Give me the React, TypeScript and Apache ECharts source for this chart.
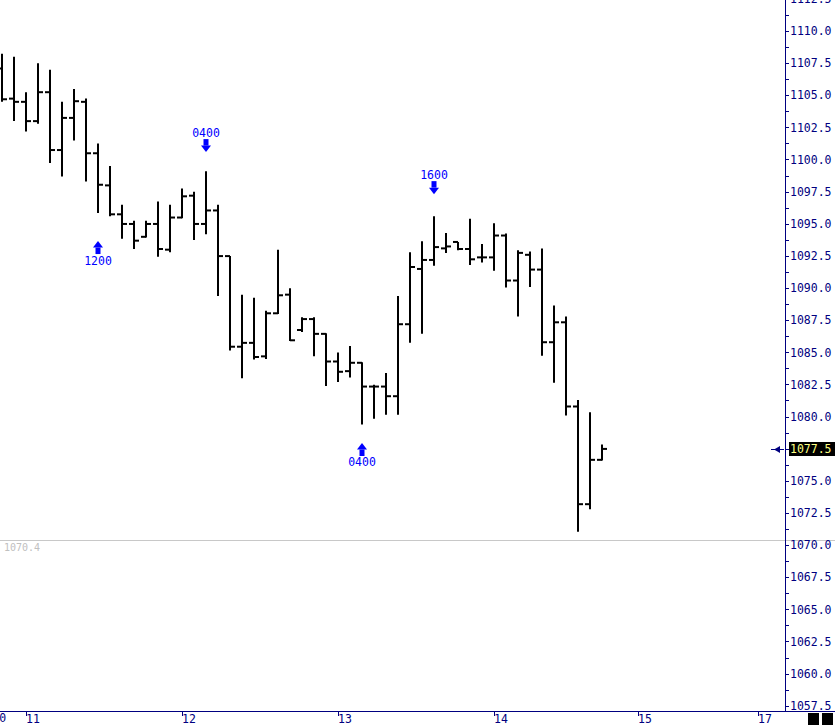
import React, { useEffect, useRef } from 'react';
import * as echarts from 'echarts';

// 2-hour OHLC bars (index 0 = first visible bar)
const opens = [
  1107.1, 1104.75, 1104.5, 1103.0, 1105.25, 1100.75, 1103.25, 1104.5, 1100.5, 1098.0,
  1095.75, 1095.0, 1094.0, 1095.0, 1093.0, 1095.5, 1097.2, 1095.0, 1096.05, 1092.5,
  1085.45, 1085.75, 1084.7, 1088.05, 1089.5, 1086.75, 1087.6, 1086.45, 1084.3, 1083.55,
  1084.2, 1082.35, 1082.35, 1081.6, 1087.2, 1091.5, 1092.2, 1093.1, 1093.6, 1093.05,
  1092.4, 1092.4, 1094.1, 1090.6, 1092.6, 1091.45, 1085.8, 1087.35, 1080.8, 1073.2,
  1076.65,
];
const highs = [
  1108.25, 1108.0, 1105.25, 1107.5, 1107.0, 1104.5, 1105.5, 1104.75, 1101.25, 1099.5,
  1096.5, 1095.25, 1095.25, 1096.75, 1096.5, 1097.75, 1097.5, 1099.1, 1096.5, 1092.5,
  1089.5, 1089.25, 1088.25, 1093.0, 1090.0, 1087.75, 1087.75, 1086.5, 1085.0, 1085.5,
  1084.25, 1082.5, 1083.4, 1089.4, 1092.8, 1093.65, 1095.6, 1094.3, 1093.6, 1095.4,
  1093.45, 1095.05, 1094.25, 1092.95, 1092.85, 1093.1, 1088.65, 1087.8, 1081.3, 1080.35,
  1077.85,
];
const lows = [
  1104.5, 1103.0, 1102.2, 1102.8, 1099.75, 1098.7, 1101.5, 1098.3, 1095.85, 1095.6,
  1093.85, 1093.05, 1093.95, 1092.45, 1092.8, 1095.45, 1093.75, 1094.2, 1089.4, 1085.15,
  1083.0, 1084.45, 1084.5, 1088.0, 1085.9, 1086.6, 1084.7, 1082.4, 1082.7, 1083.05,
  1079.4, 1079.85, 1080.15, 1080.15, 1085.75, 1086.45, 1091.75, 1092.75, 1092.95, 1091.8,
  1092.0, 1091.35, 1090.05, 1087.8, 1090.1, 1084.75, 1082.65, 1080.1, 1071.05, 1072.8,
  1076.6,
];
const closes = [
  1104.7, 1104.5, 1103.0, 1105.25, 1100.75, 1103.25, 1104.55, 1100.5, 1098.05, 1095.75,
  1095.0, 1093.7, 1095.0, 1093.05, 1095.5, 1097.15, 1095.0, 1096.05, 1092.5, 1085.45,
  1085.75, 1084.65, 1088.05, 1089.45, 1085.95, 1087.6, 1086.45, 1084.3, 1083.5, 1084.2,
  1082.35, 1082.35, 1081.6, 1087.2, 1091.65, 1092.2, 1093.2, 1093.25, 1093.05, 1092.25,
  1092.4, 1094.1, 1090.6, 1092.75, 1091.45, 1085.8, 1087.35, 1080.8, 1073.2, 1076.65,
  1077.5,
];

// day boundaries (bar slot index) and their labels
const dayTickIndex = [2, 15, 28, 41, 53, 63];
const dayLabels = ['11', '12', '13', '14', '15', '17'];
const prevDayIndex = -0.8;
const prevDayLabel = '10';

// swing signals
const signalIndex = [8, 17, 30, 36];
const signalPrice = [1093.67, 1100.59, 1077.96, 1097.32];
const signalLabel = ['1200', '0400', '0400', '1600'];
const signalDir = ['up', 'down', 'up', 'down'];

// reference level
const refLevel = 1070.4;
const refLabel = '1070.4';

const W = 835;
const H = 728;
const FONT = '"DejaVu Sans Mono", monospace';
const NAVY = '#000080';

export default function App() {
  const ref = useRef<HTMLDivElement>(null);
  useEffect(() => {
    const chart = echarts.init(ref.current!, null, { renderer: 'svg', width: W, height: H });
    const ohlc = opens.map((o, i) => [i, o, closes[i], lows[i], highs[i]]);
    const sigData = signalIndex.map((x, i) => [x, signalPrice[i]]);

    chart.setOption({
      animation: false,
      backgroundColor: '#ffffff',
      grid: { left: 0, right: 50, top: -1, bottom: 22, containLabel: false, outerBoundsMode: 'none' },
      xAxis: {
        type: 'value',
        min: -1 / 6,
        max: 65.25,
        offset: 5,
        splitLine: { show: false },
        axisLine: { show: true, onZero: false, lineStyle: { color: NAVY, width: 1 } },
        axisTick: { show: true, customValues: dayTickIndex, length: 5, lineStyle: { color: NAVY } },
        axisLabel: {
          show: true,
          customValues: dayTickIndex,
          formatter: (v: number) => {
            const k = dayTickIndex.indexOf(v);
            return k >= 0 ? dayLabels[k] : '';
          },
          align: 'left',
          margin: 2,
          color: NAVY,
          fontFamily: FONT,
          fontSize: 11.5,
        },
      },
      yAxis: {
        type: 'value',
        position: 'right',
        min: 1057.5,
        max: 1112.5,
        interval: 2.5,
        splitLine: { show: false },
        axisLine: { show: true, onZero: false, lineStyle: { color: NAVY, width: 1 } },
        axisTick: { show: true, length: 4, lineStyle: { color: NAVY } },
        minorTick: { show: true, splitNumber: 2, length: 4, lineStyle: { color: NAVY } },
        axisLabel: {
          margin: 5,
          color: NAVY,
          fontFamily: FONT,
          fontSize: 11.5,
          formatter: (v: number) => v.toFixed(1),
        },
      },
      series: [
        {
          type: 'custom',
          data: ohlc,
          encode: { x: 0, y: [1, 2, 3, 4] },
          renderItem: (params: any, api: any) => {
            const x = api.value(0);
            const o = api.coord([x, api.value(1)]);
            const c = api.coord([x, api.value(2)]);
            const l = api.coord([x, api.value(3)]);
            const h = api.coord([x, api.value(4)]);
            const cx = Math.round(h[0]);
            return {
              type: 'group',
              children: [
                { type: 'line', shape: { x1: cx, y1: h[1], x2: cx, y2: l[1] }, style: { stroke: '#000', lineWidth: 2 } },
                { type: 'line', shape: { x1: cx - 5, y1: o[1], x2: cx, y2: o[1] }, style: { stroke: '#000', lineWidth: 2 } },
                { type: 'line', shape: { x1: cx, y1: c[1], x2: cx + 5, y2: c[1] }, style: { stroke: '#000', lineWidth: 2 } },
              ],
            };
          },
        },
        {
          type: 'custom',
          data: sigData,
          encode: { x: 0, y: 1 },
          renderItem: (params: any, api: any) => {
            const p = api.coord([api.value(0), api.value(1)]);
            const x = Math.round(p[0]);
            const t = p[1];
            const down = signalDir[params.dataIndex] === 'down';
            const s = down ? -1 : 1;
            const headEnd = t + s * 6.5;
            const shaftEnd = t + s * 13;
            const labelY = t + s * 19.5;
            return {
              type: 'group',
              children: [
                { type: 'polygon', shape: { points: [[x, t], [x - 5, headEnd], [x + 5, headEnd]] }, style: { fill: '#0000ff' } },
                { type: 'rect', shape: { x: x - 2.5, y: Math.min(headEnd, shaftEnd), width: 5, height: 6.5 }, style: { fill: '#0000ff' } },
                {
                  type: 'text',
                  x: x,
                  y: labelY,
                  style: {
                    text: signalLabel[params.dataIndex],
                    fill: '#0000ff',
                    font: '11.5px "DejaVu Sans Mono", monospace',
                    align: 'center',
                    verticalAlign: 'middle',
                    textAlign: 'center',
                    textVerticalAlign: 'middle',
                  },
                },
              ],
            };
          },
        },
      ],
    });

    const yRef = chart.convertToPixel({ yAxisIndex: 0 }, refLevel) as number;
    const last = closes[closes.length - 1];
    const yLast = chart.convertToPixel({ yAxisIndex: 0 }, last) as number;
    const x10 = chart.convertToPixel({ xAxisIndex: 0 }, prevDayIndex) as number;
    const yr = Math.round(yRef) + 0.5;
    const yl = Math.round(yLast);

    chart.setOption({
      graphic: [
        { type: 'line', z: -1, shape: { x1: 0, y1: yr, x2: W, y2: yr }, style: { stroke: '#c8c8c8', lineWidth: 1 } },
        {
          type: 'text', left: 4, top: yr + 2,
          style: { text: refLabel, fill: '#c0c0c0', font: '10px "DejaVu Sans Mono", monospace' },
        },
        { type: 'line', z: 50, shape: { x1: 785.5, y1: 705, x2: 785.5, y2: 711.5 }, style: { stroke: NAVY, lineWidth: 1 } },
        { type: 'line', z: 50, shape: { x1: 785, y1: 711.5, x2: W, y2: 711.5 }, style: { stroke: NAVY, lineWidth: 1 } },
        { type: 'rect', z: 100, shape: { x: 789, y: yl - 7, width: 46, height: 14 }, style: { fill: '#000000' } },
        {
          type: 'text', z: 101, x: 790, y: yl,
          style: {
            text: last.toFixed(1), fill: '#ffff80', font: '11.5px "DejaVu Sans Mono", monospace',
            align: 'left', verticalAlign: 'middle', textAlign: 'left', textVerticalAlign: 'middle',
          },
        },
        { type: 'line', z: 50, shape: { x1: 771, y1: yl + 0.5, x2: 784, y2: yl + 0.5 }, style: { stroke: NAVY, lineWidth: 1 } },
        { type: 'polygon', z: 50, shape: { points: [[774, yl + 0.5], [780, yl - 3], [780, yl + 4]] }, style: { fill: NAVY } },
        { type: 'rect', z: 50, shape: { x: 808, y: 713, width: 11, height: 12 }, style: { fill: '#000000' } },
        { type: 'rect', z: 50, shape: { x: 822, y: 713, width: 11, height: 12 }, style: { fill: '#000000' } },
        {
          type: 'text', x: x10, y: 712,
          style: {
            text: prevDayLabel, fill: NAVY, font: '11.5px "DejaVu Sans Mono", monospace',
            align: 'left', verticalAlign: 'top', textAlign: 'left', textVerticalAlign: 'top',
          },
        },
      ],
    });

    return () => chart.dispose();
  }, []);

  return (
    <div
      ref={ref}
      style={{ position: 'fixed', left: 0, top: 0, width: W, height: H, background: '#fff' }}
    />
  );
}
